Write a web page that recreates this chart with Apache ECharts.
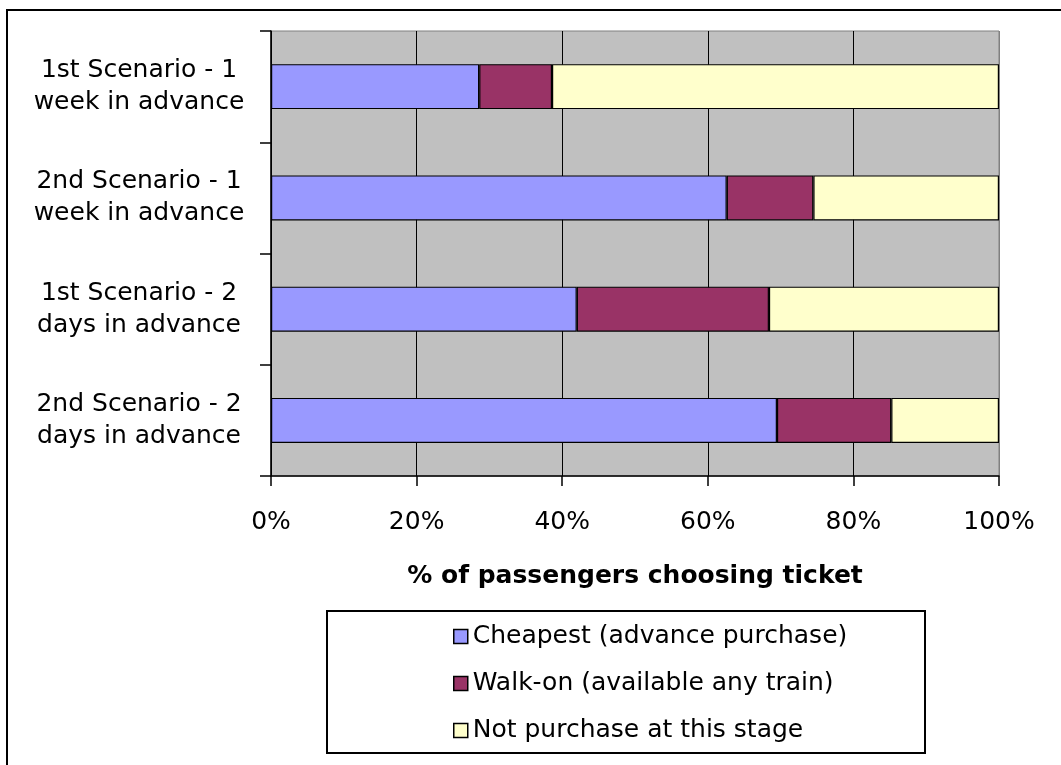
<!DOCTYPE html>
<html>
<head>
<meta charset="utf-8">
<script src="https://cdn.jsdelivr.net/npm/echarts@6/dist/echarts.min.js"></script>
<style>
html,body{margin:0;padding:0;background:#fff;}
#main{width:1061px;height:765px;}
</style>
</head>
<body>
<div id="main"></div>
<script>
var categories = [
  "1st Scenario - 1\nweek in advance",
  "2nd Scenario - 1\nweek in advance",
  "1st Scenario - 2\ndays in advance",
  "2nd Scenario - 2\ndays in advance"
];
var seriesNames = ["Cheapest (advance purchase)", "Walk-on (available any train)", "Not purchase at this stage"];
var cheapest = [28.6, 62.6, 42.0, 69.5];
var walkOn = [10.0, 11.9, 26.4, 15.7];
var notPurchase = [61.4, 25.5, 31.6, 14.8];
var xTicks = [0, 20, 40, 60, 80, 100];
var colors = ["#9999FF", "#993366", "#FFFFCC"];

var FONT = "DejaVu Sans";
var chart = echarts.init(document.getElementById('main'));
var values = [cheapest, walkOn, notPurchase];
chart.setOption({
  animation: false,
  backgroundColor: '#ffffff',
  textStyle: { fontFamily: FONT, color: '#000' },
  grid: {
    left: 271, top: 31, width: 728, height: 445,
    show: true, backgroundColor: '#C0C0C0', borderColor: '#808080', borderWidth: 1
  },
  xAxis: {
    type: 'value', min: xTicks[0], max: xTicks[xTicks.length - 1], interval: 20,
    name: "% of passengers choosing ticket",
    nameLocation: 'middle', nameGap: 88,
    nameTextStyle: { fontFamily: FONT, fontSize: 25, fontWeight: 'bold', color: '#000' },
    axisLine: { show: true, lineStyle: { color: '#000', width: 1.5 } },
    axisTick: { show: true, inside: false, length: 10, lineStyle: { color: '#000', width: 1.5 } },
    axisLabel: { formatter: '{value}%', fontFamily: FONT, fontSize: 25, color: '#000', margin: 34 },
    splitLine: { show: true, lineStyle: { color: ['#000', '#000', '#000', '#000', '#000', '#808080'], width: 1 } }
  },
  yAxis: {
    type: 'category', data: categories, inverse: true,
    axisLine: { show: true, lineStyle: { color: '#000', width: 1.5 } },
    axisTick: { show: true, inside: false, length: 11, lineStyle: { color: '#000', width: 1.5 } },
    axisLabel: { fontFamily: FONT, fontSize: 25, color: '#000', align: 'center', margin: 132, lineHeight: 32 },
    splitLine: { show: false }
  },
  legend: {
    orient: 'vertical', left: 448, top: 619,
    icon: 'rect',
    itemWidth: 14, itemHeight: 14, itemGap: 22,
    itemStyle: { borderColor: '#000', borderWidth: 1.5 },
    textStyle: { fontFamily: FONT, fontSize: 25, color: '#000', lineHeight: 25 },
    data: seriesNames,
    selectedMode: false
  },
  graphic: [
    { type: 'rect', shape: { x: 7, y: 10, width: 1100, height: 800 }, style: { fill: null, stroke: '#000', lineWidth: 2 }, silent: true },
    { type: 'rect', shape: { x: 327, y: 611, width: 598, height: 142 }, style: { fill: null, stroke: '#000', lineWidth: 2 }, silent: true }
  ],
  series: seriesNames.map(function (n, i) {
    return {
      name: n, type: 'bar', stack: 'total', data: values[i], barWidth: 45,
      itemStyle: { color: colors[i], borderColor: '#000', borderWidth: 1.2 }
    };
  })
});
</script>
</body>
</html>
